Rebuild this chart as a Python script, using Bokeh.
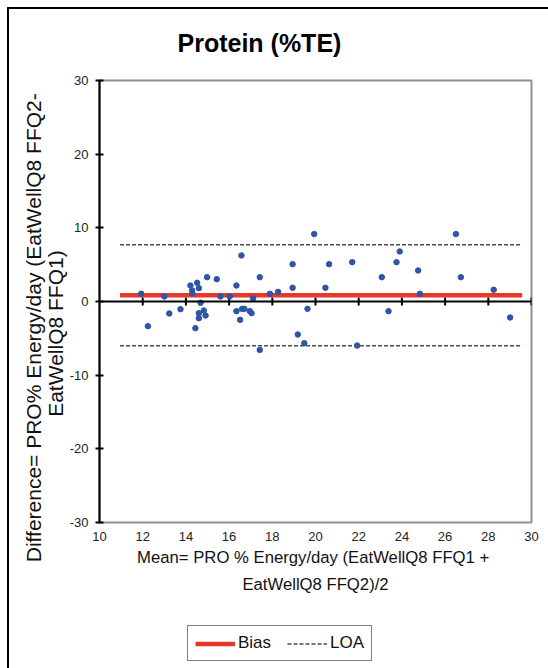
import math

from bokeh.plotting import figure
from bokeh.layouts import column
from bokeh.models import (Range1d, FixedTicker, Span, Legend, LegendItem,
                          InlineStyleSheet)
from bokeh.embed import file_html
from bokeh.resources import INLINE

# Bland-Altman data: mean of the two FFQs vs. their difference (% energy from protein)
mean_vals = [11.93, 12.24, 13.00, 13.23, 13.75, 14.21, 14.29, 14.30, 14.52, 14.60,
             14.68, 14.44, 14.60, 14.60, 14.83, 14.91, 14.98, 15.43, 15.60, 16.03,
             16.34, 16.34, 16.51, 16.57, 16.60, 16.71, 16.96, 17.04, 17.11, 17.42,
             17.42, 17.89, 18.27, 18.94, 18.94, 19.18, 19.48, 19.63, 19.94, 20.46,
             20.63, 21.70, 21.93, 23.07, 23.38, 23.75, 23.90, 24.75, 24.83, 26.50,
             26.73, 28.25, 29.01]
diff_vals = [1.05, -3.35, 0.68, -1.63, -1.04, 2.17, 1.50, 1.10, 2.54, 1.81,
             -0.18, -3.62, -1.59, -2.27, -1.22, -1.90, 3.30, 3.03, 0.68, 0.68,
             2.17, -1.31, -2.49, 6.25, -1.00, -1.00, -1.31, -1.59, 0.41, 3.30,
             -6.57, 1.05, 1.31, 5.07, 1.86, -4.48, -5.66, -1.00, 9.15, 1.86,
             5.07, 5.34, -5.98, 3.30, -1.31, 5.34, 6.79, 4.21, 1.05, 9.15,
             3.30, 1.59, -2.17]

bias = 0.86
loa_upper = 7.71
loa_lower = -5.99
line_x = [10.95, 29.57]

x_ticks = [10, 12, 14, 16, 18, 20, 22, 24, 26, 28, 30]
y_ticks = [-30, -20, -10, 0, 10, 20, 30]

TEXT = "Liberation Sans"
NARROW = "'Liberation Sans Narrow', 'Arial Narrow', 'Liberation Sans', sans-serif"
NBSP = "\u00a0"

BIAS_STYLE = dict(line_color="#e8382b", line_width=4.5)
LOA_STYLE = dict(line_color="#4d4d4d", line_width=1.5, line_dash="4 2")

# thin black border running along the left and top of the chart
main_css = InlineStyleSheet(css="""
:host { position: relative; }
:host::after {
  content: ""; position: absolute; left: 7px; top: 7px; right: 0; bottom: 0;
  border-left: 2px solid #000; border-top: 2px solid #000;
  pointer-events: none;
}
""")
legend_css = InlineStyleSheet(css="""
:host { position: relative; }
:host::after {
  content: ""; position: absolute; left: 7px; top: 0; right: 0; bottom: 0;
  border-left: 2px solid #000; pointer-events: none;
}
""")

p = figure(width=548, height=605, output_backend="svg", toolbar_location=None,
           x_range=Range1d(10, 30), y_range=Range1d(-30, 30),
           min_border_left=99, min_border_right=17, min_border_top=80,
           min_border_bottom=83, background_fill_color="white",
           border_fill_color="white", stylesheets=[main_css])

p.xgrid.visible = False
p.ygrid.visible = False
p.outline_line_color = "#8f8f8f"
p.outline_line_width = 2

# title
p.title.text = "Protein (%TE)"
p.title.align = "left"
p.title.offset = 78
p.title.standoff = 48
p.title.text_font = TEXT
p.title.text_font_style = "bold"
p.title.text_font_size = "25px"
p.title.text_color = "black"

# y axis: black line with ticks crossing it
p.yaxis.ticker = FixedTicker(ticks=y_ticks)
p.yaxis.major_label_overrides = {t: str(t) for t in y_ticks}
p.yaxis.axis_line_color = "black"
p.yaxis.axis_line_width = 2
p.yaxis.major_tick_line_color = "black"
p.yaxis.major_tick_line_width = 2
p.yaxis.major_tick_in = 4
p.yaxis.major_tick_out = 4
p.yaxis.minor_tick_line_color = None
p.yaxis.major_label_standoff = 7
p.yaxis.major_label_text_font = NARROW
p.yaxis.major_label_text_font_size = "13px"
p.yaxis.major_label_text_color = "#222222"
# the label sits a little below the middle of the axis
p.yaxis.axis_label = ("Difference= PRO% Energy/day (EatWellQ8 FFQ2-" + NBSP * 9 + "\n"
                      "EatWellQ8 FFQ1)" + NBSP * 11)
p.yaxis.axis_label_text_font = TEXT
p.yaxis.axis_label_text_font_size = "21px"
p.yaxis.axis_label_text_font_style = "normal"
p.yaxis.axis_label_text_color = "#111111"
p.yaxis.axis_label_text_align = "center"
p.yaxis.axis_label_text_line_height = 0.95
p.yaxis.axis_label_standoff = 0

# x axis: only tick labels under the frame
p.xaxis.ticker = FixedTicker(ticks=x_ticks)
p.xaxis.axis_line_color = None
p.xaxis.major_tick_line_color = None
p.xaxis.minor_tick_line_color = None
p.xaxis.major_tick_out = 0
p.xaxis.major_tick_in = 0
p.xaxis.major_label_standoff = 9
p.xaxis.major_label_text_font = NARROW
p.xaxis.major_label_text_font_size = "13px"
p.xaxis.major_label_text_color = "#222222"
p.xaxis.axis_label = ("Mean= PRO % Energy/day  (EatWellQ8 FFQ1 +\n"
                      "EatWellQ8 FFQ2)/2")
p.xaxis.axis_label_text_font = TEXT
p.xaxis.axis_label_text_font_size = "16.7px"
p.xaxis.axis_label_text_font_style = "normal"
p.xaxis.axis_label_text_color = "#111111"
p.xaxis.axis_label_text_line_height = 1.45
p.xaxis.axis_label_standoff = 4

# zero line with its tick marks
p.add_layout(Span(location=0, dimension="width", line_color="black", line_width=2))
p.scatter(x=x_ticks[1:], y=[0] * (len(x_ticks) - 1), marker="dash",
          angle=math.pi / 2, size=8, line_color="black", line_width=2)

# limits of agreement and bias
p.line(line_x, [loa_upper, loa_upper], **LOA_STYLE)
p.line(line_x, [loa_lower, loa_lower], **LOA_STYLE)
p.line(line_x, [bias, bias], **BIAS_STYLE)

p.scatter(mean_vals, diff_vals, size=5.5, fill_color="#2f55a6",
          line_color="#2f55a6")

# legend strip underneath the chart; its key lines fall outside its own frame
leg = figure(width=548, height=63, output_backend="svg", toolbar_location=None,
             x_range=Range1d(0, 1), y_range=Range1d(0, 1), title=None,
             x_axis_type=None, y_axis_type=None, min_border=0,
             outline_line_color=None, background_fill_color="white",
             border_fill_color="white", stylesheets=[legend_css])
leg.xgrid.visible = False
leg.ygrid.visible = False
bias_key = leg.line(line_x, [bias, bias], **BIAS_STYLE)
loa_key = leg.line(line_x, [loa_upper, loa_upper], **LOA_STYLE)

legend = Legend(items=[LegendItem(label="Bias", renderers=[bias_key]),
                       LegendItem(label="LOA", renderers=[loa_key])],
                location=(88, 7), orientation="horizontal",
                border_line_color="black", border_line_width=1.5,
                background_fill_color="white", background_fill_alpha=1,
                padding=7, spacing=16, label_standoff=3,
                glyph_width=40, glyph_height=13, label_height=13,
                label_text_font=TEXT, label_text_font_size="17px",
                label_text_color="#111111", margin=0)
leg.add_layout(legend)

layout = column(p, leg, spacing=0)

open("out.html", "w").write(file_html(layout, INLINE))
